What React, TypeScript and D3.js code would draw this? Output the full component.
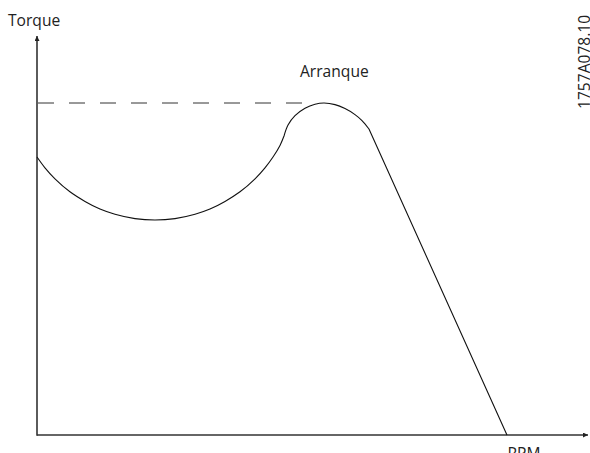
import React, { useEffect, useRef } from 'react';
import * as d3 from 'd3';

// torque curve (rpm and torque in % of axis)
const bowlRpm = [0, 1.45, 3.27, 5.99, 8.73, 11.45, 14.18, 17.82, 21.45, 25.09, 28.73, 31.45, 34.18, 36.91, 39.64, 41.45, 42.91, 44.18, 44.91];
const bowlTorque = [69.5, 66.8, 64.05, 60.8, 58.4, 56.5, 55.2, 54.1, 53.75, 54.1, 55.2, 56.5, 58.4, 60.8, 64.05, 66.8, 69.5, 72.4, 74.75];
const humpRpm = [44.91, 45.64, 46.91, 48.73, 50.55, 52.2, 54.18, 56, 57.82, 59.09, 60.36];
const humpTorque = [74.75, 77.5, 79.85, 81.7, 82.7, 83, 82.6, 81.6, 80.1, 78.6, 76.5];
const tailRpm = [60.36, 85.45];
const tailTorque = [76.5, 0];

const pullOutTorque = 83;
const pullOutEnd = 48.7;

const xLabel = 'RPM';
const yLabel = 'Torque';
const peakLabel = 'Arranque';
const drawingCode = '1757A078.10';

const W = 590;
const H = 453;
const FONT = '"Open Sans", "Noto Sans", sans-serif';
const FS = 15.6;

export default function App() {
  const svgRef = useRef<SVGSVGElement>(null);

  useEffect(() => {
    if (!svgRef.current) return;
    const svg = d3.select(svgRef.current);
    svg.selectAll('*').remove();

    const x = d3.scaleLinear().domain([0, 100]).range([37, 587]);
    const y = d3.scaleLinear().domain([0, 100]).range([435, 35]);

    // arrow heads
    const defs = svg.append('defs');
    defs.append('marker')
      .attr('id', 'arrow')
      .attr('viewBox', '0 0 10 10')
      .attr('refX', 10)
      .attr('refY', 5)
      .attr('markerWidth', 7)
      .attr('markerHeight', 5)
      .attr('markerUnits', 'userSpaceOnUse')
      .attr('orient', 'auto')
      .append('path')
      .attr('d', 'M0,0L10,5L0,10Z')
      .attr('fill', '#222');

    // axes
    svg.append('line')
      .attr('x1', x(0)).attr('y1', y(0))
      .attr('x2', x(100) + 1).attr('y2', y(0))
      .attr('stroke', '#333')
      .attr('stroke-width', 1.6)
      .attr('marker-end', 'url(#arrow)');
    svg.append('line')
      .attr('x1', x(0)).attr('y1', y(0) + 0.8)
      .attr('x2', x(0)).attr('y2', y(100) + 1)
      .attr('stroke', '#333')
      .attr('stroke-width', 1.6)
      .attr('marker-end', 'url(#arrow)');

    // pull-out torque reference
    svg.append('line')
      .attr('x1', x(0) + 1).attr('y1', y(pullOutTorque))
      .attr('x2', x(pullOutEnd)).attr('y2', y(pullOutTorque))
      .attr('stroke', '#333')
      .attr('stroke-width', 1)
      .attr('stroke-dasharray', '16,15');

    // torque curve: bowl + hump (kink between them) + straight fall-off
    const smooth = d3.line<[number, number]>()
      .x(d => x(d[0]))
      .y(d => y(d[1]))
      .curve(d3.curveCatmullRom.alpha(0.5));
    const straight = d3.line<[number, number]>()
      .x(d => x(d[0]))
      .y(d => y(d[1]));

    const bowl = d3.zip(bowlRpm, bowlTorque) as [number, number][];
    const hump = d3.zip(humpRpm, humpTorque) as [number, number][];
    const tail = d3.zip(tailRpm, tailTorque) as [number, number][];

    svg.append('path')
      .attr('d', (smooth(bowl) || '') + (smooth(hump) || '').replace(/^M/, 'L') + (straight(tail) || '').replace(/^M/, 'L'))
      .attr('fill', 'none')
      .attr('stroke', '#111')
      .attr('stroke-width', 1.1)
      .attr('stroke-linejoin', 'round');

    // labels
    svg.append('text')
      .attr('x', 8).attr('y', 26)
      .attr('font-family', FONT).attr('font-size', FS).attr('fill', '#222')
      .text(yLabel);
    svg.append('text')
      .attr('x', 300).attr('y', 77)
      .attr('font-family', FONT).attr('font-size', FS).attr('fill', '#222')
      .text(peakLabel);
    svg.append('text')
      .attr('x', 524).attr('y', 459)
      .attr('text-anchor', 'middle')
      .attr('font-family', FONT).attr('font-size', FS).attr('fill', '#222')
      .text(xLabel);
    svg.append('text')
      .attr('transform', `translate(590,${109}) rotate(-90)`)
      .attr('font-family', FONT).attr('font-size', FS).attr('fill', '#222')
      .text(drawingCode);
  }, []);

  return (
    <svg
      ref={svgRef}
      width={W}
      height={H}
      style={{ position: 'absolute', left: 0, top: 0, background: '#fff' }}
    />
  );
}
